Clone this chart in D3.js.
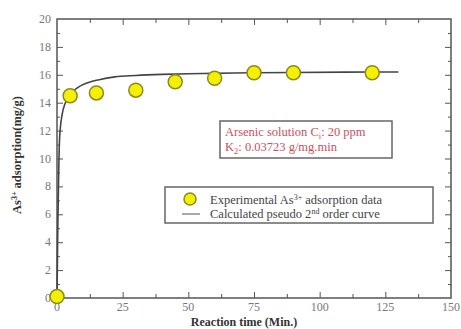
<!DOCTYPE html>
<html>
  <head>
    <meta charset="utf-8">
    <title>As3+ adsorption</title>
    <script src="https://d3js.org/d3.v7.min.js"></script>
    <style>
      body { margin: 0; background: #fff; }
      text { font-family: "Liberation Serif", "DejaVu Serif", serif; }
    </style>
  </head>
  <body>
    <svg id="canvas" width="461" height="329"></svg>
    <script>
      var expTime = [0, 5, 15, 30, 45, 60, 75, 90, 120];
      var expQ = [0.1, 14.5, 14.7, 14.9, 15.5, 15.75, 16.15, 16.15, 16.15];

      // calculated pseudo 2nd order curve
      var curveTime = [0, 0.3, 0.6, 1, 2, 3, 5, 8, 12, 16, 22, 30, 40, 50, 60, 75, 90, 110, 130];
      var curveQ = [0, 5, 8.5, 11.5, 13.2, 13.9, 14.6, 15.1, 15.45, 15.65, 15.85, 15.95, 16.03, 16.08, 16.1, 16.15, 16.17, 16.19, 16.2];

      var xTicks = [0, 25, 50, 75, 100, 125, 150];
      var yTicks = [0, 2, 4, 6, 8, 10, 12, 14, 16, 18, 20];

      var svg = d3.select("#canvas");
      var pLeft = 57, pRight = 451, pTop = 19, pBottom = 298;

      var x = d3.scaleLinear().domain([0, 150]).range([pLeft, pRight]);
      var y = d3.scaleLinear().domain([0, 20]).range([pBottom, pTop]);

      var axisColor = "#555";

      // frame
      svg.append("rect")
        .attr("x", pLeft).attr("y", pTop)
        .attr("width", pRight - pLeft).attr("height", pBottom - pTop)
        .style("fill", "none").style("stroke", axisColor).style("stroke-width", 1.5);

      // minor ticks
      var xMinor = d3.range(12.5, 150, 25);
      var yMinor = d3.range(1, 20, 2);

      function ticks(axis, vals, len) {
        var g = svg.append("g").call(axis.tickValues(vals).tickSize(-len).tickSizeOuter(0)
          .tickFormat(""));
        g.select(".domain").remove();
        g.selectAll("line").style("stroke", axisColor).style("stroke-width", 1);
        return g;
      }

      ticks(d3.axisBottom(x), xTicks.slice(1, -1), 6).attr("transform", "translate(0," + pBottom + ")");
      ticks(d3.axisBottom(x), xMinor, 4).attr("transform", "translate(0," + pBottom + ")");
      ticks(d3.axisTop(x), xTicks.slice(1, -1), 6).attr("transform", "translate(0," + pTop + ")");
      ticks(d3.axisTop(x), xMinor, 4).attr("transform", "translate(0," + pTop + ")");
      ticks(d3.axisLeft(y), yTicks.slice(1, -1), 6).attr("transform", "translate(" + pLeft + ",0)");
      ticks(d3.axisLeft(y), yMinor, 3).attr("transform", "translate(" + pLeft + ",0)");
      ticks(d3.axisRight(y), yTicks.slice(1, -1), 6).attr("transform", "translate(" + pRight + ",0)");
      ticks(d3.axisRight(y), yMinor, 3).attr("transform", "translate(" + pRight + ",0)");

      // tick labels
      svg.append("g").selectAll("text")
        .data(xTicks).enter().append("text")
        .attr("x", function(d){ return x(d); })
        .attr("y", 311)
        .attr("text-anchor", "middle")
        .style("font-size", "12px").style("fill", "#777")
        .text(function(d){ return d; });

      svg.append("g").selectAll("text")
        .data(yTicks).enter().append("text")
        .attr("x", 51)
        .attr("y", function(d){ return y(d) + 4; })
        .attr("text-anchor", "end")
        .style("font-size", "12px").style("fill", "#777")
        .text(function(d){ return d; });

      // axis titles
      svg.append("text")
        .attr("x", 244).attr("y", 326)
        .attr("text-anchor", "middle")
        .style("font-size", "12px").style("font-weight", "bold").style("fill", "#333")
        .text("Reaction time (Min.)");

      var yl = svg.append("text")
        .attr("transform", "translate(21,155) rotate(-90)")
        .attr("text-anchor", "middle")
        .style("font-size", "12.5px").style("font-weight", "bold").style("fill", "#333");
      yl.append("tspan").text("As");
      yl.append("tspan").attr("dy", -4).style("font-size", "8px").text("3+");
      yl.append("tspan").attr("dy", 4).text(" adsorption(mg/g)");

      // curve
      var line = d3.line()
        .x(function(d){ return x(d[0]); })
        .y(function(d){ return y(d[1]); })
        .curve(d3.curveMonotoneX);

      svg.append("path")
        .datum(d3.zip(curveTime, curveQ))
        .attr("d", line)
        .style("fill", "none").style("stroke", "#444").style("stroke-width", 1.6);

      // points
      svg.append("g").selectAll("circle")
        .data(d3.zip(expTime, expQ)).enter().append("circle")
        .attr("cx", function(d){ return x(d[0]); })
        .attr("cy", function(d){ return y(d[1]); })
        .attr("r", 7)
        .style("fill", "#f5f000").style("stroke", "#8a8a20").style("stroke-width", 1.5);

      // annotation box
      svg.append("rect")
        .attr("x", 220).attr("y", 121).attr("width", 172).attr("height", 37)
        .style("fill", "#fff").style("stroke", "#666").style("stroke-width", 1.5);
      var a1 = svg.append("text").attr("x", 225).attr("y", 136)
        .style("font-size", "12.5px").style("fill", "#c8505e");
      a1.append("tspan").text("Arsenic solution C");
      a1.append("tspan").attr("dy", 3).style("font-size", "8.5px").text("i");
      a1.append("tspan").attr("dy", -3).text(": 20 ppm");
      var a2 = svg.append("text").attr("x", 225).attr("y", 151)
        .style("font-size", "12.5px").style("fill", "#c8505e");
      a2.append("tspan").text("K");
      a2.append("tspan").attr("dy", 3).style("font-size", "8.5px").text("2");
      a2.append("tspan").attr("dy", -3).text(": 0.03723 g/mg.min");

      // legend
      svg.append("rect")
        .attr("x", 165).attr("y", 187).attr("width", 268).attr("height", 36)
        .style("fill", "#fff").style("stroke", "#666").style("stroke-width", 1.5);
      svg.append("circle").attr("cx", 190).attr("cy", 199).attr("r", 6)
        .style("fill", "#f5f000").style("stroke", "#8a8a20").style("stroke-width", 1.5);
      svg.append("line").attr("x1", 182).attr("x2", 200).attr("y1", 214).attr("y2", 214)
        .style("stroke", "#555").style("stroke-width", 1);
      var l1 = svg.append("text").attr("x", 210).attr("y", 204)
        .style("font-size", "12.5px").style("fill", "#444");
      l1.append("tspan").text("Experimental As");
      l1.append("tspan").attr("dy", -4).style("font-size", "8px").text("3+");
      l1.append("tspan").attr("dy", 4).text(" adsorption data");
      var l2 = svg.append("text").attr("x", 210).attr("y", 218)
        .style("font-size", "12.5px").style("fill", "#444");
      l2.append("tspan").text("Calculated pseudo 2");
      l2.append("tspan").attr("dy", -4).style("font-size", "8px").text("nd");
      l2.append("tspan").attr("dy", 4).text(" order curve");
    </script>
  </body>
</html>
